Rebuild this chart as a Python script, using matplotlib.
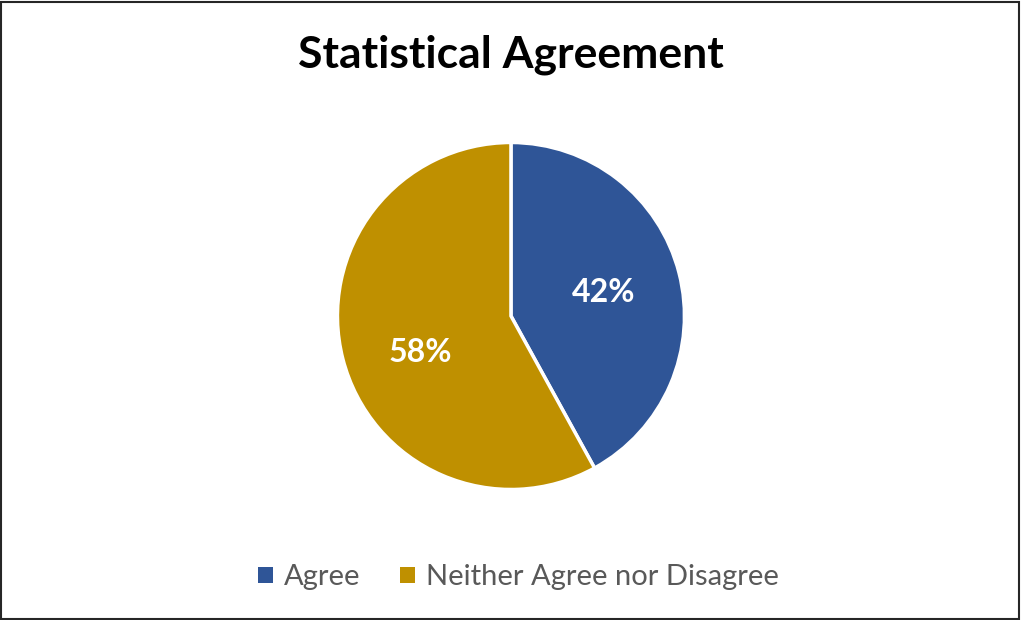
import matplotlib.pyplot as plt
from matplotlib.patches import Rectangle

labels = ["Agree", "Neither Agree nor Disagree"]
shares = [42, 58]
colors = ["#2F5597", "#BF9000"]
title = "Statistical Agreement"

plt.rcParams["font.family"] = ["Lato", "DejaVu Sans"]

fig = plt.figure(figsize=(10.21, 6.2), dpi=100)
fig.patches.append(Rectangle((0.001, 0.002), 0.997, 0.995, transform=fig.transFigure,
                             fill=False, edgecolor="#262626", linewidth=1.5))

# pie axes, ~347px square centred at (511, 316)
ax = fig.add_axes([0.3305, 0.2105, 0.3399, 0.5597])
wedges, texts, autotexts = ax.pie(shares, colors=colors, startangle=90, counterclock=False,
                                  autopct="%d%%", pctdistance=0.55,
                                  wedgeprops=dict(edgecolor="white", linewidth=2.5),
                                  textprops=dict(color="white", fontsize=23, fontweight="bold"))
ax.set_xlim(-1.0, 1.0)
ax.set_ylim(-1.0, 1.0)
ax.set_aspect("equal")
# Excel nudges the second label below the horizontal
autotexts[1].set_position((-0.52, -0.21))

fig.text(0.5, 0.912, title, ha="center", va="center", fontsize=32, fontweight="bold", color="black")

handles = [Rectangle((0, 0), 1, 1, facecolor=c) for c in colors]
fig.legend(handles, labels, loc="center", bbox_to_anchor=(0.508, 0.069), ncol=2, frameon=False,
           fontsize=21, handlelength=0.5, handleheight=0.5, handletextpad=0.4, columnspacing=1.35,
           labelcolor="#595959")

fig.savefig("out.png", dpi=100)
